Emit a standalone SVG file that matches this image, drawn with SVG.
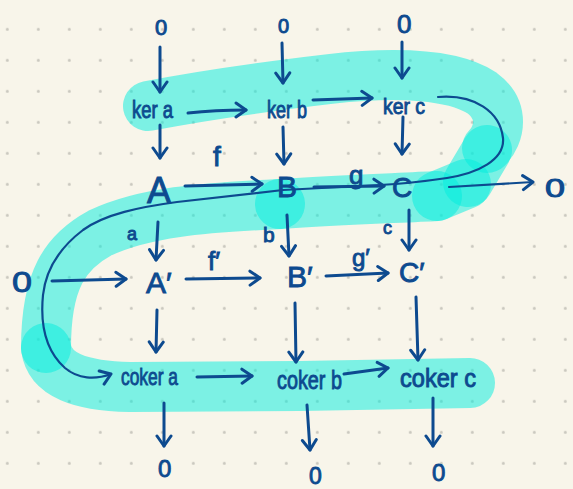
<svg xmlns="http://www.w3.org/2000/svg" width="573" height="489" viewBox="0 0 573 489">
<style>
.ink{fill:#0d4a8f;stroke:#0d4a8f;stroke-width:0.9;font-family:"Liberation Sans","DejaVu Sans",sans-serif;}
.hl{fill:none;stroke:#00eede;stroke-opacity:0.5;stroke-width:50;stroke-linecap:round;stroke-linejoin:round;}
.c{fill:none;stroke:#0d4a8f;stroke-width:3;stroke-linecap:round;stroke-linejoin:round;marker-end:url(#ah);}
.thin{stroke-width:2.2;}
</style>
<defs>
<pattern id="dots" x="-8.2" y="13.8" width="31" height="31" patternUnits="userSpaceOnUse">
<circle cx="15.5" cy="15.5" r="1.5" fill="#c9c7be"/>
</pattern>
<marker id="ah" viewBox="-12 -9 14 18" markerWidth="14" markerHeight="18" refX="0" refY="0" orient="auto" markerUnits="userSpaceOnUse">
<path d="M-10,-7 L0,0 L-10,7" fill="none" stroke="#0d4a8f" stroke-width="3" stroke-linecap="round" stroke-linejoin="round"/>
</marker>
</defs>
<rect width="573" height="489" fill="#f8f5ea"/>
<rect width="573" height="489" fill="url(#dots)"/>
<g id="highlight">
<path class="hl" d="M148,106 C200,96 270,86 330,79 C400,71 455,75 482,93 C505,110 500,135 487,148"/>
<path class="hl" d="M487,150 L468,182"/>
<path class="hl" d="M466,184 L437,196"/>
<path class="hl" d="M437,196 C400,198 340,200 280,204"/>
<path class="hl" d="M280,204 C200,208 145,212 100,233 C65,252 46,280 46,348"/>
<path class="hl" d="M46,348 C50,375 80,386 130,387 L300,386 C380,385 440,384 470,383"/>
</g>
<g id="connectors">
<path class="c" d="M160,47 L160,92"/>
<path class="c" d="M282,43 L283,83"/>
<path class="c" d="M402,42 L402,78"/>
<path class="c" d="M188,113 Q215,110 246,110"/>
<path class="c" d="M313,100 L372,98"/>
<path class="c" d="M160,125 L160,158"/>
<path class="c" d="M283,127 L284,164"/>
<path class="c" d="M403,117 L402,154"/>
<path class="c" d="M185,186 L262,184"/>
<path class="c" d="M314,187 L384,186"/>
<path class="c thin" d="M449,187 L533,182"/>
<path class="c" d="M158,222 L156,260"/>
<path class="c" d="M287,215 L289,256"/>
<path class="c" d="M409,210 L409,250"/>
<path class="c" d="M52,281 L126,279"/>
<path class="c" d="M186,279 L260,278"/>
<path class="c" d="M326,276 L388,273"/>
<path class="c" d="M157,310 L156,352"/>
<path class="c" d="M295,303 L296,362"/>
<path class="c" d="M416,297 L418,360"/>
<path class="c" d="M197,377 L252,376"/>
<path class="c" d="M344,374 L388,368"/>
<path class="c" d="M164,403 L164,446"/>
<path class="c" d="M307,405 L310,450"/>
<path class="c" d="M433,398 L433,446"/>
<path class="c thin" d="M438,97 C475,94 500,112 503,138 C505,160 478,173 447,178 C420,182 400,184 380,185 L283,190 L177,202 C140,207 105,214 83,230 C62,246 46,268 43,295 C40,325 45,350 65,368 C78,379 95,380 111,374"/>
</g>
<g id="edge-labels">
<text class="ink" x="213" y="166" font-size="28">f</text>
<text class="ink" x="349" y="184" font-size="26">g</text>
<text class="ink" x="127" y="240" font-size="18">a</text>
<text class="ink" x="263" y="242" font-size="21">b</text>
<text class="ink" x="383" y="234" font-size="18">c</text>
<text class="ink" x="208" y="270" font-size="26">f′</text>
<text class="ink" x="352" y="266" font-size="24">g′</text>
</g>
<g id="zero-top-a"><text class="ink" x="155" y="35" font-size="22">0</text></g>
<g id="zero-top-b"><text class="ink" x="278" y="33" font-size="20">0</text></g>
<g id="zero-top-c"><text class="ink" x="397" y="33" font-size="26">0</text></g>
<g id="ker-a"><text class="ink" x="132" y="118" font-size="23" textLength="41" lengthAdjust="spacingAndGlyphs">ker a</text></g>
<g id="ker-b"><text class="ink" x="267" y="118" font-size="23" textLength="40" lengthAdjust="spacingAndGlyphs">ker b</text></g>
<g id="ker-c"><text class="ink" x="383" y="114" font-size="22" textLength="42" lengthAdjust="spacingAndGlyphs">ker c</text></g>
<g id="A"><text class="ink" x="147" y="203" font-size="36">A</text></g>
<g id="B"><text class="ink" x="277" y="197" font-size="30">B</text></g>
<g id="C"><text class="ink" x="392" y="197" font-size="28">C</text></g>
<g id="zero-right"><text class="ink" x="545" y="197" font-size="25" textLength="20" lengthAdjust="spacingAndGlyphs">0</text></g>
<g id="zero-left"><text class="ink" x="12" y="292" font-size="30" textLength="20" lengthAdjust="spacingAndGlyphs">0</text></g>
<g id="A-prime"><text class="ink" x="146" y="293" font-size="30">A′</text></g>
<g id="B-prime"><text class="ink" x="287" y="287" font-size="30">B′</text></g>
<g id="C-prime"><text class="ink" x="399" y="282" font-size="28">C′</text></g>
<g id="coker-a"><text class="ink" x="121" y="385" font-size="24" textLength="57" lengthAdjust="spacingAndGlyphs">coker a</text></g>
<g id="coker-b"><text class="ink" x="277" y="389" font-size="26" textLength="65" lengthAdjust="spacingAndGlyphs">coker b</text></g>
<g id="coker-c"><text class="ink" x="400" y="387" font-size="25" textLength="76" lengthAdjust="spacingAndGlyphs">coker c</text></g>
<g id="zero-bottom-a"><text class="ink" x="158" y="477" font-size="24">0</text></g>
<g id="zero-bottom-b"><text class="ink" x="309" y="484" font-size="23">0</text></g>
<g id="zero-bottom-c"><text class="ink" x="432" y="481" font-size="24">0</text></g>
</svg>
